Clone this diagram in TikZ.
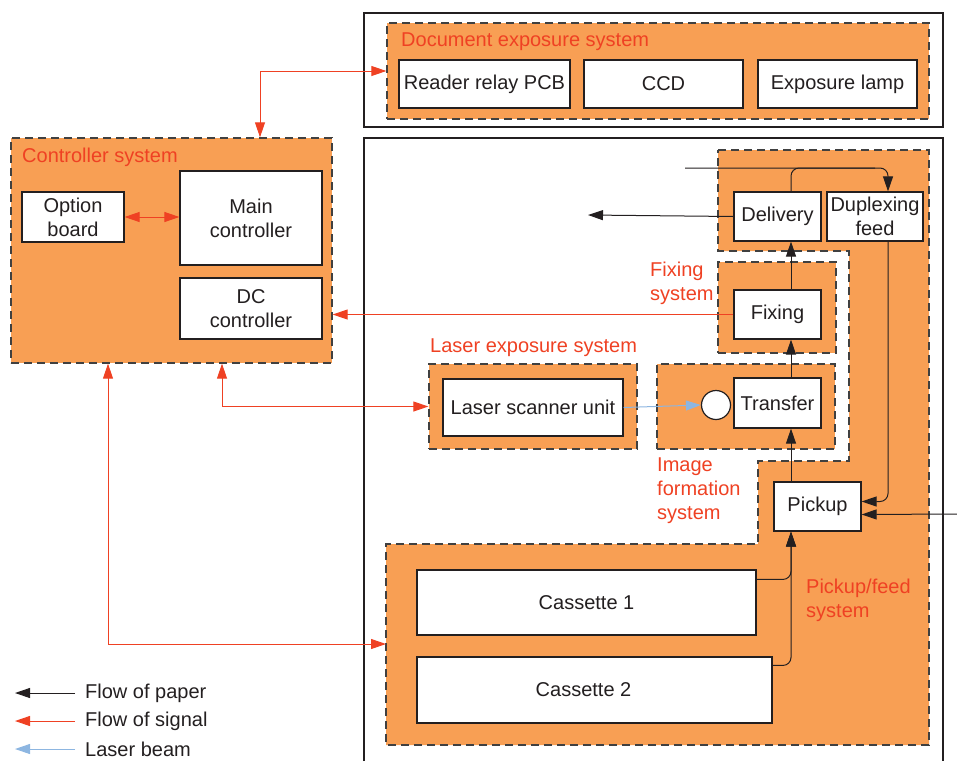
\documentclass[tikz,border=0pt]{standalone}
\usepackage{fontspec}
\setmainfont{Liberation Sans}
\usepackage{tikz}
\usetikzlibrary{arrows.meta,calc}
\definecolor{sysorange}{RGB}{248,159,84}
\definecolor{sysred}{RGB}{239,65,35}
\definecolor{beamblue}{RGB}{141,182,225}
\definecolor{inkgray}{RGB}{35,31,32}
\definecolor{dashgray}{RGB}{64,64,64}
\tikzset{
  unit/.style={draw=inkgray,line width=1.2pt,fill=white,inner sep=0pt,align=center,text=inkgray},
  sysbox/.style={draw=dashgray,line width=1.3pt,dash pattern=on 8pt off 5pt,fill=sysorange,inner sep=0pt},
  frame/.style={draw=inkgray,line width=2pt},
  syslabel/.style={text=sysred,inner sep=0pt,align=left},
  legtext/.style={text=inkgray,inner sep=0pt},
  paper/.style={draw=inkgray,line width=1pt,-{Triangle[length=15pt,width=10pt]}},
  signal/.style={draw=sysred,line width=1pt,-{Triangle[length=15pt,width=10pt]}},
  signaltwo/.style={signal,{Triangle[length=15pt,width=10pt]}-{Triangle[length=15pt,width=10pt]}},
  beam/.style={draw=beamblue,line width=1pt,-{Triangle[length=15pt,width=10pt]}},
}

\begin{document}
\begin{tikzpicture}[x=1pt,y=1pt,yscale=-1,font=\fontsize{20}{24}\selectfont]
\useasboundingbox (0,0) rectangle (957,761);

%Outer frames
\draw[frame] (364,13) rectangle (943,127);
\draw[frame] (364,761) -- (364,138) -- (943,138) -- (943,761);

%Pickup/feed region
\draw[sysbox] (718,150) -- (929,150) -- (929,745) -- (386,745) -- (386,544) -- (758,544) -- (758,461) -- (849,461) -- (849,251) -- (718,251) -- cycle;

%System areas
\node[sysbox,minimum width=542pt,minimum height=96pt] (docsys) at (658,71) {};
\node[sysbox,minimum width=321pt,minimum height=225pt] (ctrl) at (171.5,250.5) {};
\node[sysbox,minimum width=208pt,minimum height=85pt] (lasersys) at (533,406.5) {};
\node[sysbox,minimum width=178pt,minimum height=85pt] (imagesys) at (746,406.5) {};
\node[sysbox,minimum width=118pt,minimum height=91pt] (fixsys) at (777,307.5) {};

% Text Node
\node[syslabel,anchor=west] (doclabel) at (401,42) {Document exposure system};
\node[syslabel,anchor=west] (ctrllabel) at (22,157) {Controller system};
\node[syslabel,anchor=west] (laserlabel) at (430,348) {Laser exposure system};
\node[syslabel,anchor=west] (fixlabel) at (650,283) {Fixing\\system};
\node[syslabel,anchor=west] (imagelabel) at (657,491) {Image\\formation\\system};
\node[syslabel,anchor=west] (feedlabel) at (806,600) {Pickup/feed\\system};

%Units
\node[unit,minimum width=171pt,minimum height=48pt] (reader) at (484.5,84) {Reader relay PCB};
\node[unit,minimum width=159pt,minimum height=48pt] (ccd) at (663.5,84) {CCD};
\node[unit,minimum width=159pt,minimum height=48pt] (lamp) at (837.5,84) {Exposure lamp};
\node[unit,minimum width=102pt,minimum height=50pt] (option) at (73,217) {Option\\board};
\node[unit,minimum width=142pt,minimum height=94pt] (mainc) at (251,218) {Main\\controller};
\node[unit,minimum width=142pt,minimum height=61pt] (dcc) at (251,308.5) {DC\\controller};
\node[unit,minimum width=180pt,minimum height=57pt] (lsu) at (533,407.5) {Laser scanner unit};
\node[unit,minimum width=87pt,minimum height=50pt] (transfer) at (777.5,403) {Transfer};
\node[unit,circle,minimum size=29pt] (drum) at (716,405) {};
\node[unit,minimum width=87pt,minimum height=49pt] (fixing) at (777.5,314.5) {Fixing};
\node[unit,minimum width=87pt,minimum height=49pt] (delivery) at (777.5,216.5) {Delivery};
\node[unit,minimum width=96pt,minimum height=49pt] (duplex) at (875,216.5) {Duplexing\\feed};
\node[unit,minimum width=87pt,minimum height=49pt] (pickup) at (817.5,506.5) {Pickup};
\node[unit,minimum width=339pt,minimum height=65pt] (cas1) at (586.5,602.5) {Cassette 1};
\node[unit,minimum width=355pt,minimum height=66pt] (cas2) at (594.5,690) {Cassette 2\hspace*{22pt}};

%Route points
\coordinate (px) at (791,0);
\coordinate (dx) at (888,0);
\coordinate (topin) at (685,168);
\coordinate (delout) at (588,215);
\coordinate (manual) at (957,514);
\coordinate (feedin) at (386,644);
\coordinate (sx1) at (260,0);
\coordinate (sx2) at (108,0);
\coordinate (sx3) at (222,0);

%Flow of paper
\draw[paper,rounded corners=8pt] ($(cas1.north east)+(0,10)$) -| (pickup.south -| px);
\draw[paper,rounded corners=8pt] ($(cas2.north east)+(0,9)$) -| (pickup.south -| px);
\draw[paper] (pickup.north -| px) -- (transfer.south -| px);
\draw[paper] (transfer.north -| px) -- (fixing.south -| px);
\draw[paper] (fixing.north -| px) -- (delivery.south -| px);
\draw[paper] (delivery.west) -- (delout);
\draw[paper,rounded corners=8pt] (topin) -| (duplex.north -| dx);
\draw[draw=inkgray,line width=1pt,rounded corners=8pt] (delivery.north -| px) |- (topin -| duplex.north);
\draw[paper,rounded corners=8pt] (duplex.south -| dx) |- ($(pickup.east)+(0,-5)$);
\draw[paper] (manual) -- ($(pickup.east)+(0,8)$);

%Flow of signal
\draw[signaltwo] (ctrl.north -| sx1) |- (docsys.west);
\draw[signaltwo] (option.east) -- (mainc.west |- option.east);
\draw[signal] (fixing.west) -- (ctrl.east |- fixing.west);
\draw[signaltwo] (ctrl.south -| sx2) |- (feedin);
\draw[signaltwo] (ctrl.south -| sx3) |- (lasersys.west);

%Laser beam
\draw[beam] (lsu.east) -- (drum.west);

%Legend
\node[legtext,anchor=west] (legpaper) at (85,693) {Flow of paper};
\node[legtext,anchor=west] (legsignal) at (85,721) {Flow of signal};
\node[legtext,anchor=west] (legbeam) at (85,749) {Laser beam};
\draw[paper] ($(legpaper.west)+(-10,0)$) -- ($(legpaper.west)+(-70,0)$);
\draw[signal] ($(legsignal.west)+(-10,0)$) -- ($(legsignal.west)+(-70,0)$);
\draw[beam] ($(legbeam.west)+(-10,0)$) -- ($(legbeam.west)+(-70,0)$);

\end{tikzpicture}
\end{document}
